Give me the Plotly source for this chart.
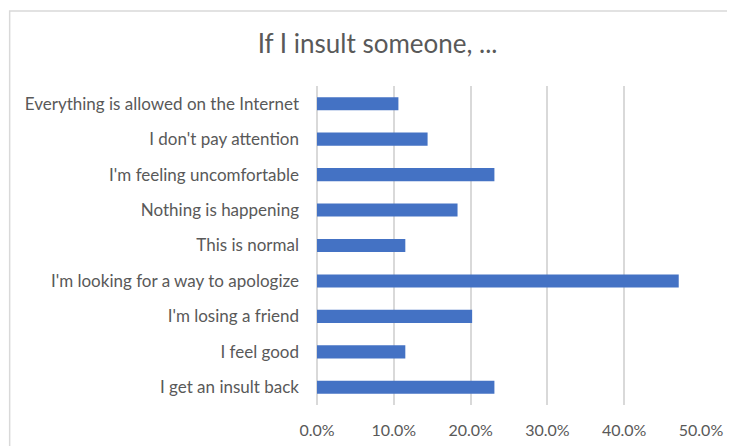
import plotly.graph_objects as go

categories = [
    "Everything is allowed on the Internet",
    "I don't pay attention",
    "I'm feeling uncomfortable",
    "Nothing is happening",
    "This is normal",
    "I'm looking for a way to apologize",
    "I'm losing a friend",
    "I feel good",
    "I get an insult back",
]
values = [0.106, 0.144, 0.231, 0.183, 0.115, 0.471, 0.202, 0.115, 0.231]
title_text = "If I insult someone, ..."

FONT = "Lato"
GREY = "#595959"

# page body has an 8px margin; figure sized to fit the remaining window
W, H = 727, 438
L, R, T, B = 308.5, 34.3, 78, 41
PW, PH = W - L - R, H - T - B

fig = go.Figure(go.Bar(
    x=values, y=categories, orientation="h",
    marker=dict(color="#4472C4", line=dict(width=0)),
    width=0.37,
))

fig.update_layout(
    width=W, height=H,
    margin=dict(l=L, r=R, t=T, b=B, autoexpand=False),
    paper_bgcolor="white", plot_bgcolor="white",
    title=dict(text=title_text, x=369.6 / W, xanchor="center", y=1 - 36 / H, yanchor="middle",
               font=dict(family=FONT, size=26, color=GREY)),
    font=dict(family=FONT, size=17, color=GREY),
    showlegend=False,
    xaxis=dict(range=[0, 0.5], dtick=0.1, tickformat=".1%",
               showgrid=True, gridcolor="#d9d9d9", gridwidth=1.5,
               zeroline=True, zerolinecolor="#d9d9d9", zerolinewidth=1.5,
               showline=False, ticks="", ticklabelstandoff=14, automargin=False,
               tickfont=dict(family=FONT, size=16, color=GREY), fixedrange=True),
    yaxis=dict(autorange="reversed", showgrid=False, showline=False, ticks="",
               ticklabelstandoff=17, automargin=False,
               tickfont=dict(family=FONT, size=17, color=GREY), fixedrange=True),
    shapes=[dict(type="rect", xref="paper", yref="paper",
                 x0=(1 - L) / PW, x1=(W - L + 20) / PW, y0=-(B + 20) / PH, y1=1 + (T - 3) / PH,
                 line=dict(color="#d9d9d9", width=1.5), fillcolor="rgba(0,0,0,0)",
                 layer="below")],
)

fig.write_html("out.html")
